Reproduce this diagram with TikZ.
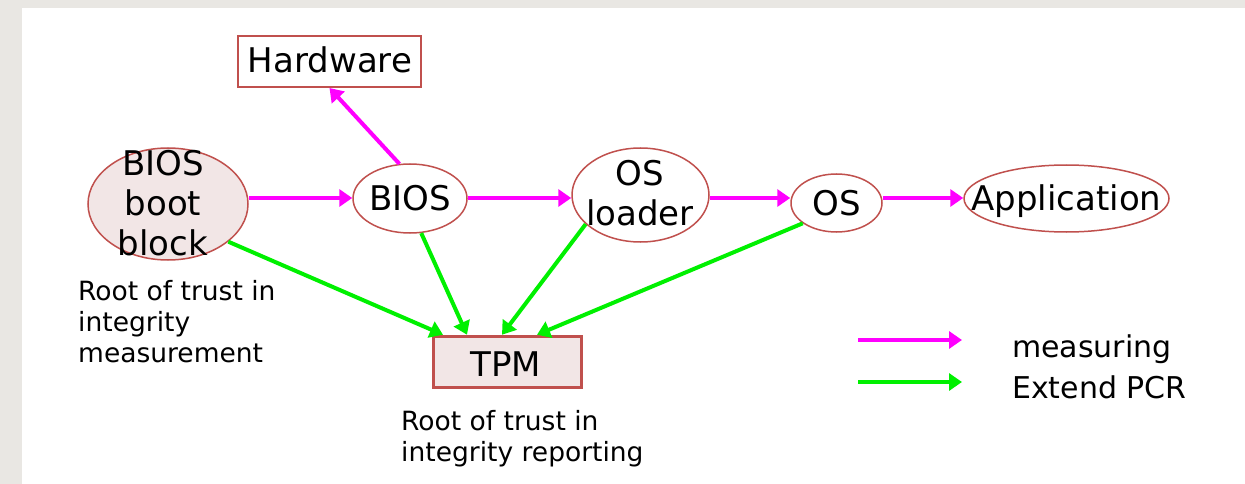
\documentclass[tikz,border=0pt]{standalone}
\usepackage{fontspec}
\setmainfont{DejaVu Sans}
\usetikzlibrary{shapes.geometric,arrows.meta}
\definecolor{bord}{RGB}{192,80,77}
\definecolor{pinkf}{RGB}{242,230,230}
\definecolor{stone}{RGB}{233,231,227}
\definecolor{mag}{RGB}{255,0,255}
\definecolor{grn}{RGB}{0,240,0}
\begin{document}
\begin{tikzpicture}[x=1pt,y=-1pt,
  ell/.style={ellipse,draw=bord,line width=1.5pt,inner sep=0pt},
  boxnode/.style={rectangle,draw=bord,inner sep=0pt},
  big/.style={font=\fontsize{34}{40}\selectfont,inner sep=0pt},
  small/.style={font=\fontsize{26.5}{31}\selectfont,inner sep=0pt,align=left},
  legtxt/.style={font=\fontsize{30}{36}\selectfont,inner sep=0pt,anchor=base west},
  meas/.style={draw=mag,line width=4pt,-{Triangle[length=13pt,width=17pt]}},
  ext/.style={draw=grn,line width=4pt,-{Triangle[length=13pt,width=17pt]}}]
\useasboundingbox (0,0) rectangle (1245,484);
\fill[stone] (0,0) rectangle (1245,484);
\fill[white] (22,8) rectangle (1245,484);

% nodes
\node[ell,fill=pinkf,minimum width=160pt,minimum height=112pt] (bbb) at (168,204) {};
\node[big,align=center] (bbbt) at (163,203) {BIOS\\boot\\block};
\node[ell,fill=white,minimum width=114pt,minimum height=69pt] (bios) at (410,198.5) {};
\node[big,anchor=base] (biost) at ([yshift=-12.4pt]bios.center) {BIOS};
\node[ell,fill=white,minimum width=137pt,minimum height=94pt] (osl) at (640.5,195) {};
\node[big,align=center] (oslt) at (640,193) {OS\\loader};
\node[ell,fill=white,minimum width=91pt,minimum height=58pt] (os) at (836.5,203) {};
\node[big,anchor=base] (ost) at ([yshift=-12.4pt]os.center) {OS};
\node[ell,fill=white,minimum width=205pt,minimum height=67pt] (app) at (1066.5,198.5) {};
\node[big,anchor=base] (appt) at ([yshift=-12.4pt]app.center) {Application};
\node[boxnode,fill=white,line width=2pt,minimum width=183pt,minimum height=51pt] (hw) at (329.5,61.5) {};
\node[big,anchor=base] (hwt) at (330,73) {Hardware};
\node[boxnode,fill=pinkf,line width=3.5pt,minimum width=148pt,minimum height=51pt] (tpm) at (507.5,362) {};
\node[big,anchor=base] (tpmt) at (506,376) {TPM};

% labels
\node[small,anchor=north west] (rtm) at (78,280) {Root of trust in\\integrity\\measurement};
\node[small,anchor=north west] (rtr) at (401,410) {Root of trust in\\integrity reporting};

% measuring arrows
\coordinate (flow) at (0,198);
\draw[meas] (bbb.east |- flow) -- (bios.west |- flow);
\draw[meas] (bios.107) -- (hw.south);
\draw[meas] (bios.east |- flow) -- (osl.west |- flow);
\draw[meas] (osl.east |- flow) -- (os.west |- flow);
\draw[meas] (os.east |- flow) -- (app.west |- flow);

% extend PCR arrows
\draw[ext] (bbb.-32) -- ([xshift=-64.5pt]tpm.north);
\draw[ext] (bios.-72) -- ([xshift=-40.5pt]tpm.north);
\draw[ext] (osl.208) -- ([xshift=-5.5pt]tpm.north);
\draw[ext] (os.211) -- ([xshift=29.5pt]tpm.north);

% legend
\coordinate (m1) at (858,340);
\coordinate (m2) at (962,340);
\coordinate (g1) at (858,382);
\coordinate (g2) at (962,382);
\draw[meas] (m1) -- (m2);
\draw[ext] (g1) -- (g2);
\node[legtxt] (lm) at (1012,357) {measuring};
\node[legtxt] (le) at (1012,398) {Extend PCR};
\end{tikzpicture}
\end{document}
